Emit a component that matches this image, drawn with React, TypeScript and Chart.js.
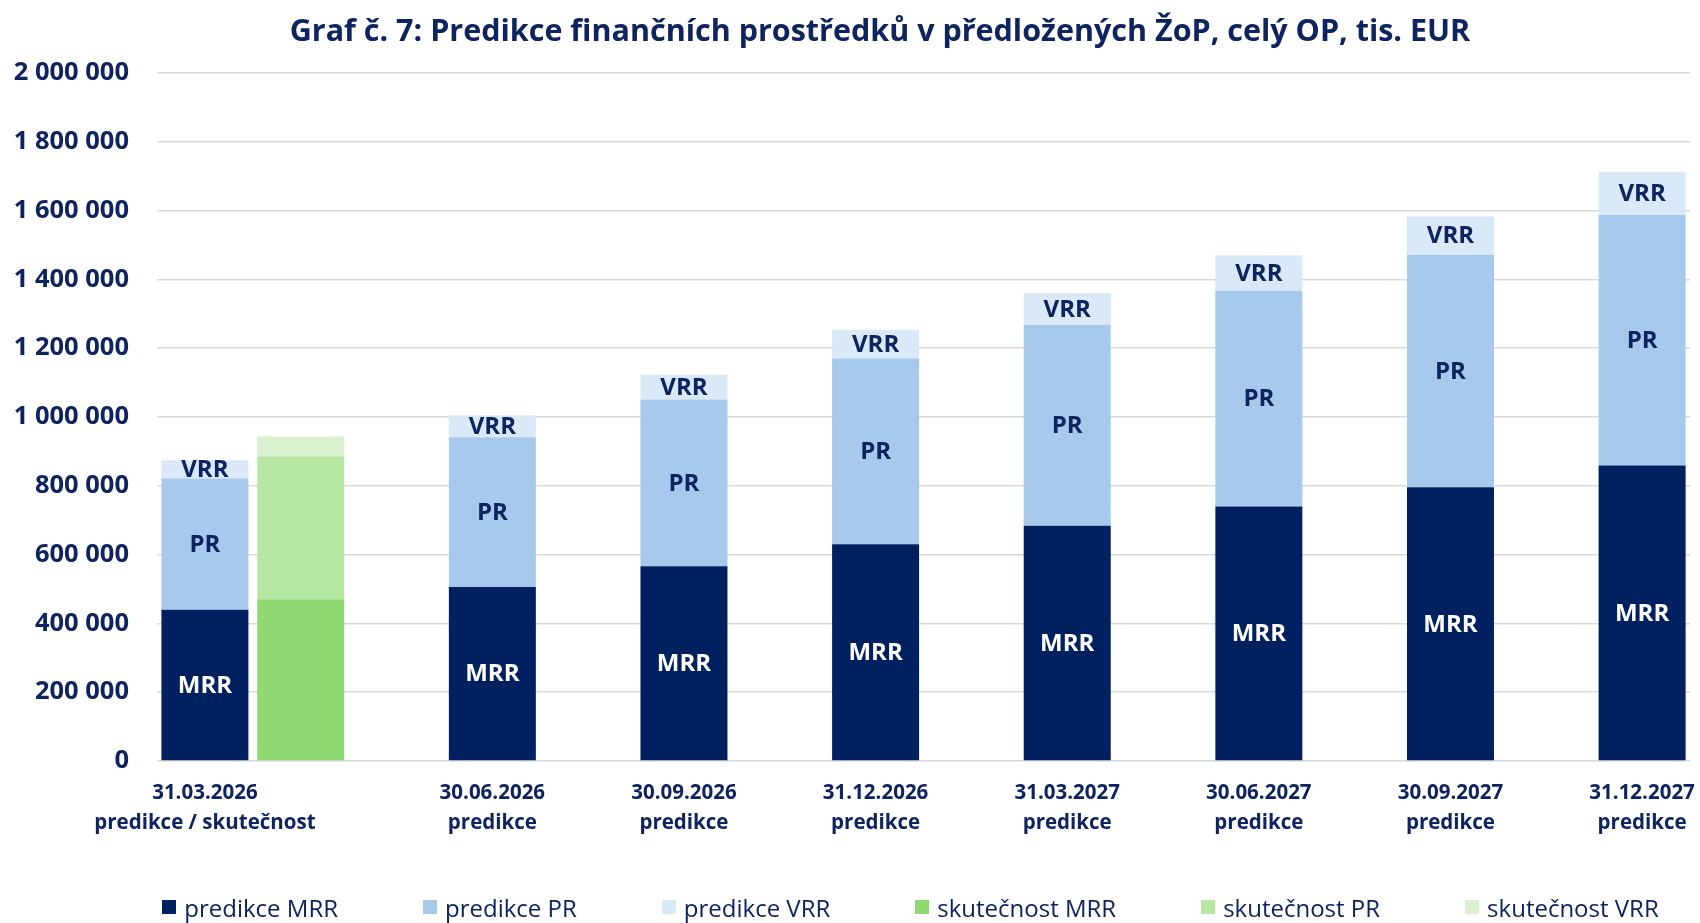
import React, { useEffect, useRef } from "react";
import { Chart, registerables } from "chart.js";

Chart.register(...registerables);

const FONT = "'Open Sans', 'Noto Sans', sans-serif";
const NAVY = "#0E2461";

const TITLE = "Graf č. 7: Predikce finančních prostředků v předložených ŽoP, celý OP, tis. EUR";

const dates = ["31.03.2026", "30.06.2026", "30.09.2026", "31.12.2026", "31.03.2027", "30.06.2027", "30.09.2027", "31.12.2027"];
const dateSubLabels = ["predikce / skutečnost", "predikce", "predikce", "predikce", "predikce", "predikce", "predikce", "predikce"];

const predMRR = [440000, 506000, 566000, 630000, 684000, 740000, 796000, 859000];
const predPR = [381000, 435000, 485000, 540000, 584000, 627000, 676000, 729000];
const predVRR = [53000, 64000, 72000, 83000, 92000, 103000, 111000, 125000];

const actMRR = [470000];
const actPR = [415000];
const actVRR = [58000];

const segNames = ["MRR", "PR", "VRR"];
const legendNames = ["predikce MRR", "predikce PR", "predikce VRR", "skutečnost MRR", "skutečnost PR", "skutečnost VRR"];
const colors = ["#002060", "#A6C9EC", "#DAE9F8", "#8FD973", "#B5E6A2", "#DAF2D0"];

const yTickValues = [0, 200000, 400000, 600000, 800000, 1000000, 1200000, 1400000, 1600000, 1800000, 2000000];

const SLOTS = 16;
const predSlot = (i: number) => (i === 0 ? 0 : 2 * i + 1);
const actSlot = (i: number) => 1 + i;

function buildPred(values: number[]) {
  const arr: (number | null)[] = new Array(SLOTS).fill(null);
  values.forEach((v, i) => (arr[predSlot(i)] = v));
  return arr;
}
function buildAct(values: number[]) {
  const arr: (number | null)[] = new Array(SLOTS).fill(null);
  values.forEach((v, i) => (arr[actSlot(i)] = v));
  return arr;
}
function buildLabels() {
  const arr: (string | string[])[] = new Array(SLOTS).fill("");
  dates.forEach((d, i) => (arr[predSlot(i)] = [d, dateSubLabels[i]]));
  return arr;
}

const fmt = (v: number) => String(v).replace(/\B(?=(\d{3})+(?!\d))/g, " ");

const segLabelPlugin = {
  id: "segLabels",
  afterDatasetsDraw(chart: any) {
    const ctx = chart.ctx;
    ctx.save();
    ctx.font = `bold 24px ${FONT}`;
    ctx.textAlign = "center";
    ctx.textBaseline = "middle";
    [0, 1, 2].forEach((di) => {
      const meta = chart.getDatasetMeta(di);
      meta.data.forEach((el: any, idx: number) => {
        const v = chart.data.datasets[di].data[idx];
        if (v == null) return;
        const p = el.getProps(["x", "y", "base"], true);
        ctx.fillStyle = di === 0 ? "#FFFFFF" : NAVY;
        ctx.fillText(segNames[di], p.x, (p.y + p.base) / 2 + 1);
      });
    });
    ctx.restore();
  },
};

export default function App() {
  const ref = useRef<HTMLCanvasElement>(null);

  useEffect(() => {
    if (!ref.current) return;
    const ds = (label: string, data: (number | null)[], color: string) => ({
      label,
      data,
      backgroundColor: color,
      borderWidth: 0,
      stack: "s",
      barPercentage: 0.908,
      categoryPercentage: 1,
    });
    const chart = new Chart(ref.current, {
      type: "bar",
      data: {
        labels: buildLabels(),
        datasets: [
          ds(legendNames[0], buildPred(predMRR), colors[0]),
          ds(legendNames[1], buildPred(predPR), colors[1]),
          ds(legendNames[2], buildPred(predVRR), colors[2]),
          ds(legendNames[3], buildAct(actMRR), colors[3]),
          ds(legendNames[4], buildAct(actPR), colors[4]),
          ds(legendNames[5], buildAct(actVRR), colors[5]),
        ],
      },
      options: {
        animation: false,
        responsive: false,
        devicePixelRatio: 1,
        layout: { padding: { left: 0, right: 10, top: 73, bottom: 62 } },
        plugins: {
          title: { display: false },
          legend: { display: false },
          tooltip: { enabled: false },
        },
        scales: {
          x: {
            stacked: true,
            grid: { display: false, drawTicks: false },
            border: { display: false },
            ticks: {
              autoSkip: false,
              maxRotation: 0,
              minRotation: 0,
              color: NAVY,
              padding: 18,
              font: { family: FONT, size: 20.5, weight: "bold", lineHeight: 1.42 },
            },
            afterFit: (s: any) => {
              s.height = 100;
              s.paddingLeft = 0;
              s.paddingRight = 0;
            },
          },
          y: {
            stacked: true,
            min: 0,
            max: 2000000,
            afterBuildTicks: (s: any) => {
              s.ticks = yTickValues.map((v) => ({ value: v }));
            },
            ticks: {
              color: NAVY,
              padding: 28,
              font: { family: FONT, size: 25.5, weight: "bold" },
              callback: (v: any) => fmt(Number(v)),
            },
            grid: { color: "#D9D9D9", lineWidth: 1.5, drawTicks: false },
            border: { display: false },
            afterFit: (s: any) => {
              s.width = 157;
              s.paddingTop = 0;
            },
          },
        },
      },
      plugins: [segLabelPlugin],
    } as any);
    return () => chart.destroy();
  }, []);

  return (
    <div style={{ position: "absolute", left: 0, top: 0, width: 1700, height: 923, background: "#fff" }}>
      <canvas ref={ref} width={1700} height={923} style={{ display: "block", width: 1700, height: 923 }} />
      <div
        style={{
          position: "absolute",
          left: 0,
          width: 1760,
          top: 8,
          height: 42,
          lineHeight: "42px",
          textAlign: "center",
          fontFamily: FONT,
          fontSize: 30.5,
          fontWeight: "bold",
          color: NAVY,
          whiteSpace: "nowrap",
        }}
      >
        {TITLE}
      </div>
      <div
        style={{
          position: "absolute",
          left: 144,
          width: 1533,
          top: 891,
          height: 32,
          display: "flex",
          justifyContent: "center",
          alignItems: "center",
          gap: 85,
          fontFamily: FONT,
          fontSize: 24,
          color: NAVY,
          whiteSpace: "nowrap",
        }}
      >
        {legendNames.map((n, i) => (
          <div key={n} style={{ display: "flex", alignItems: "center" }}>
            <span style={{ display: "inline-block", width: 14, height: 14, background: colors[i], marginRight: 8 }} />
            <span>{n}</span>
          </div>
        ))}
      </div>
    </div>
  );
}
